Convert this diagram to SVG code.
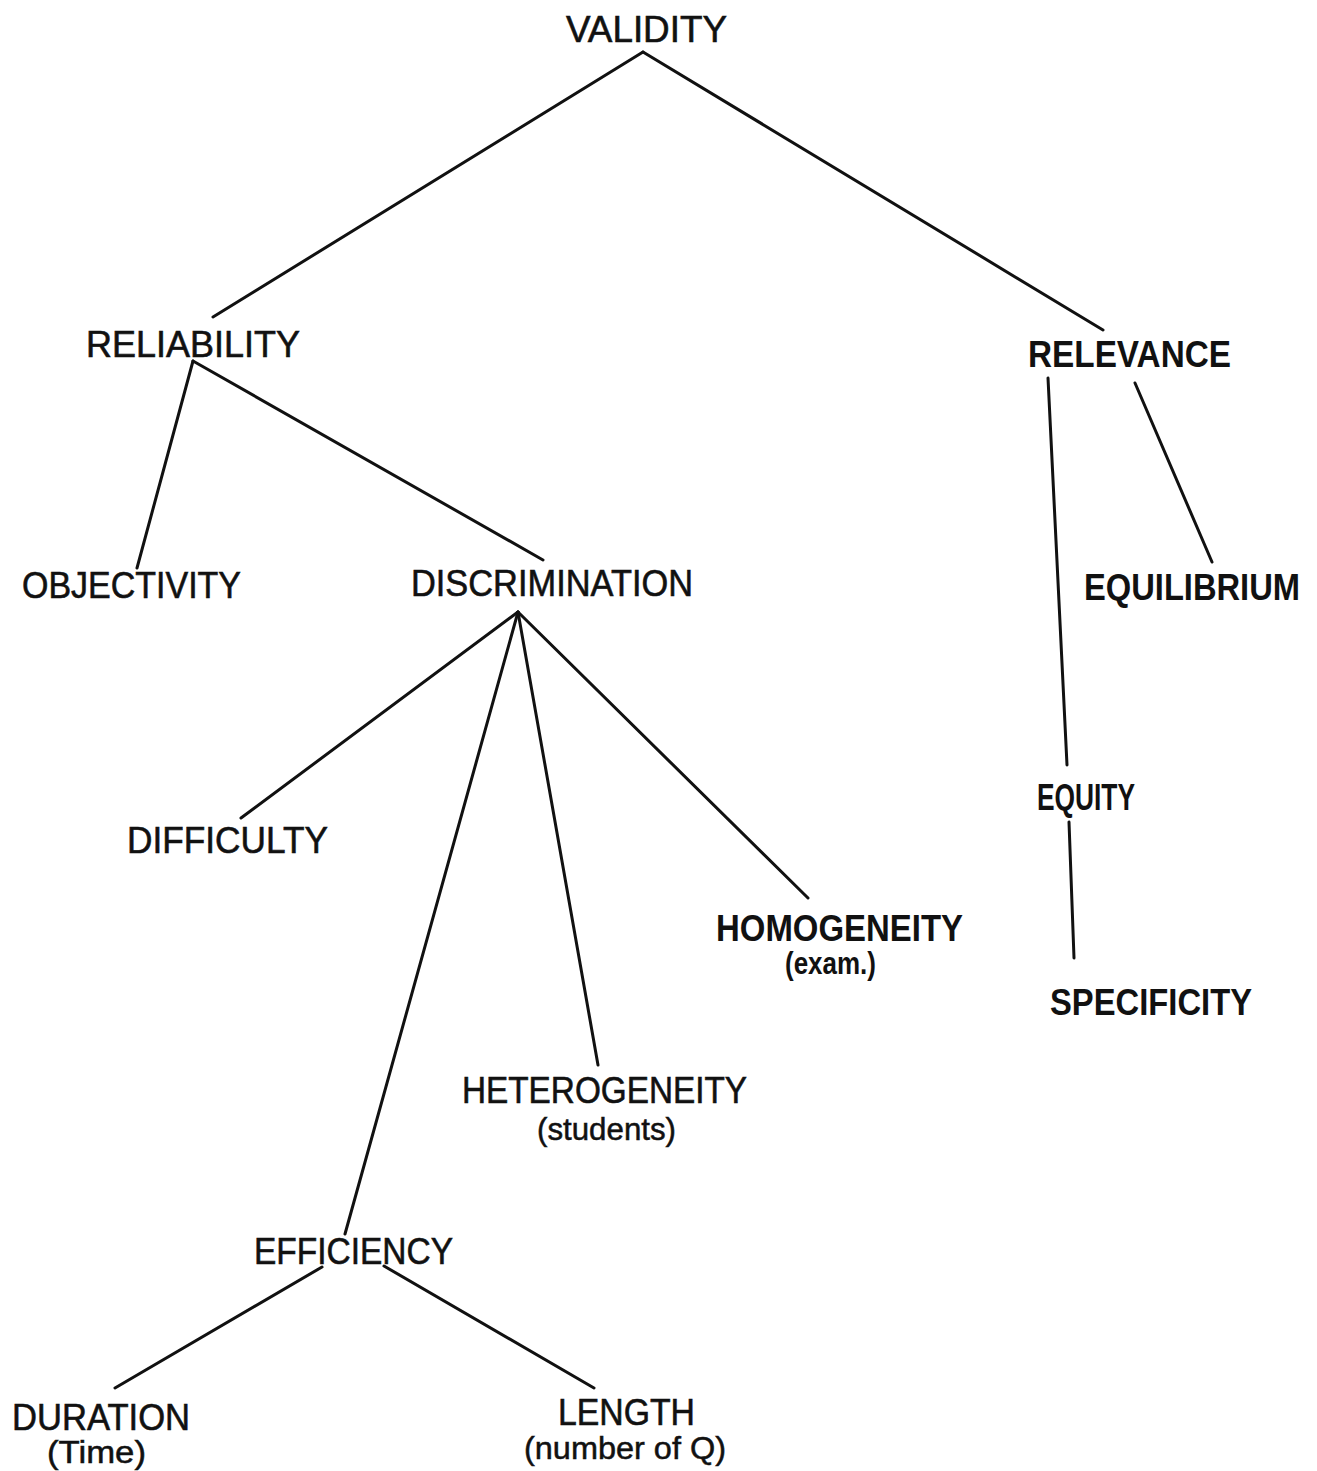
<svg xmlns="http://www.w3.org/2000/svg" width="1317" height="1471" viewBox="0 0 1317 1471">
  <style>
    .bg { fill: #ffffff; }
    text { font-family: "Liberation Sans", Arial, sans-serif; fill: #111111; }
    .cond { font-size: 37px; stroke: #111111; stroke-width: 0.6px; }
    .wide { font-size: 37px; font-weight: bold; }
    .sub { font-size: 31px; stroke: #111111; stroke-width: 0.5px; }
    .wsub { font-size: 31px; font-weight: bold; }
    .edge { stroke: #111111; stroke-width: 3; fill: none; stroke-linecap: round; }
  </style>
  <rect class="bg" x="0" y="0" width="1317" height="1471"/>

  <!-- tree edges -->
  <g id="connectors">
    <line class="edge" x1="643" y1="52" x2="213" y2="317"/>
    <line class="edge" x1="643" y1="52" x2="1103" y2="330"/>
    <line class="edge" x1="193" y1="361" x2="137" y2="568"/>
    <line class="edge" x1="193" y1="361" x2="543" y2="560"/>
    <line class="edge" x1="1048" y1="378" x2="1067" y2="765"/>
    <line class="edge" x1="1135" y1="383" x2="1212" y2="562"/>
    <line class="edge" x1="1069" y1="822" x2="1074" y2="958"/>
    <line class="edge" x1="518" y1="612" x2="241" y2="818"/>
    <line class="edge" x1="518" y1="612" x2="345" y2="1234"/>
    <line class="edge" x1="518" y1="612" x2="598" y2="1065"/>
    <line class="edge" x1="518" y1="612" x2="808" y2="898"/>
    <line class="edge" x1="322" y1="1267" x2="115" y2="1388"/>
    <line class="edge" x1="384" y1="1266" x2="594" y2="1388"/>
  </g>

  <g id="validity"><text class="cond" x="566" y="42" textLength="161" lengthAdjust="spacingAndGlyphs">VALIDITY</text></g>
  <g id="reliability"><text class="cond" x="86" y="357" textLength="214" lengthAdjust="spacingAndGlyphs">RELIABILITY</text></g>
  <g id="relevance"><text class="wide" x="1028" y="367" textLength="203" lengthAdjust="spacingAndGlyphs">RELEVANCE</text></g>
  <g id="objectivity"><text class="cond" x="22" y="598" textLength="219" lengthAdjust="spacingAndGlyphs">OBJECTIVITY</text></g>
  <g id="discrimination"><text class="cond" x="411" y="596" textLength="282" lengthAdjust="spacingAndGlyphs">DISCRIMINATION</text></g>
  <!-- set a little smaller and stretched upright so it stays inside the right edge -->
  <g id="equilibrium"><text class="wide" style="font-size:32px" transform="translate(1084,600) scale(1,1.15)" x="0" y="0" textLength="216" lengthAdjust="spacingAndGlyphs">EQUILIBRIUM</text></g>
  <g id="equity"><text class="wide" x="1037" y="810" textLength="98" lengthAdjust="spacingAndGlyphs">EQUITY</text></g>
  <g id="difficulty"><text class="cond" x="127" y="853" textLength="201" lengthAdjust="spacingAndGlyphs">DIFFICULTY</text></g>
  <g id="homogeneity">
    <text class="wide" x="716" y="941" textLength="247" lengthAdjust="spacingAndGlyphs">HOMOGENEITY</text>
    <text class="wsub" x="785" y="974" textLength="91" lengthAdjust="spacingAndGlyphs">(exam.)</text>
  </g>
  <g id="specificity"><text class="wide" x="1050" y="1015" textLength="202" lengthAdjust="spacingAndGlyphs">SPECIFICITY</text></g>
  <g id="heterogeneity">
    <text class="cond" x="462" y="1103" textLength="285" lengthAdjust="spacingAndGlyphs">HETEROGENEITY</text>
    <text class="sub" x="537" y="1140" textLength="139" lengthAdjust="spacingAndGlyphs">(students)</text>
  </g>
  <g id="efficiency"><text class="cond" x="254" y="1264" textLength="199" lengthAdjust="spacingAndGlyphs">EFFICIENCY</text></g>
  <g id="duration">
    <text class="cond" x="12" y="1430" textLength="178" lengthAdjust="spacingAndGlyphs">DURATION</text>
    <text class="sub" x="47" y="1463" textLength="99" lengthAdjust="spacingAndGlyphs">(Time)</text>
  </g>
  <g id="length">
    <text class="cond" x="558" y="1425" textLength="137" lengthAdjust="spacingAndGlyphs">LENGTH</text>
    <text class="sub" x="524" y="1459" textLength="202" lengthAdjust="spacingAndGlyphs">(number of Q)</text>
  </g>
</svg>
